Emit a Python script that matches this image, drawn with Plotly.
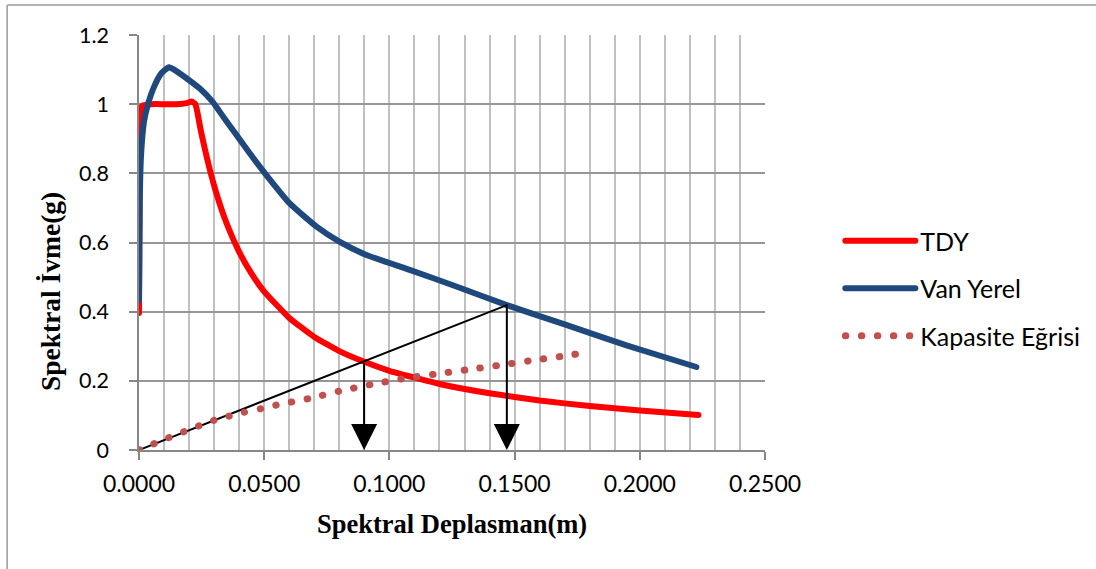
import plotly.graph_objects as go

# ---- data ----
tdy_x = [0.0, 0.0003, 0.0012, 0.005, 0.010, 0.015, 0.019, 0.021, 0.0225, 0.0235, 0.0245,
         0.026, 0.0283, 0.031, 0.035, 0.040, 0.045, 0.050, 0.060, 0.070, 0.080, 0.090,
         0.100, 0.120, 0.140, 0.160, 0.180, 0.200, 0.2234]
tdy_y = [0.396, 0.85, 0.995, 1.0, 1.0, 1.0, 1.003, 1.008, 1.0, 0.97, 0.93,
         0.88, 0.81, 0.74, 0.655, 0.573, 0.509, 0.458, 0.382, 0.327, 0.286, 0.255,
         0.229, 0.191, 0.164, 0.143, 0.127, 0.1145, 0.101]

van_x = [0.0, 0.0003, 0.0008, 0.002, 0.0036, 0.006, 0.009, 0.012, 0.014, 0.018, 0.0243,
         0.0295, 0.034, 0.038, 0.044, 0.0503, 0.0602, 0.0709, 0.0802, 0.0908, 0.1081,
         0.1270, 0.1469, 0.1700, 0.1950, 0.2226]
van_y = [0.434, 0.72, 0.85, 0.95, 1.0, 1.05, 1.09, 1.107, 1.10, 1.08, 1.045,
         1.006, 0.96, 0.92, 0.86, 0.80, 0.713, 0.646, 0.602, 0.564, 0.521,
         0.472, 0.419, 0.363, 0.302, 0.240]

kap_x = [0.0, 0.006, 0.012, 0.018, 0.024, 0.030, 0.036, 0.042, 0.049, 0.055, 0.061,
         0.068, 0.080, 0.093, 0.106, 0.119, 0.132, 0.145, 0.157, 0.170, 0.177]
kap_y = [0.0, 0.018, 0.036, 0.053, 0.070, 0.086, 0.098, 0.109, 0.120, 0.130, 0.139,
         0.149, 0.170, 0.190, 0.207, 0.220, 0.233, 0.246, 0.259, 0.272, 0.280]

# black secant line (origin -> performance point) and the two drop arrows
sec_x = [0.0, 0.1469]
sec_y = [0.0, 0.419]
arrow_x = [0.0899, 0.1469]
arrow_top = [0.256, 0.419]

x_ticks = [0.0, 0.05, 0.10, 0.15, 0.20, 0.25]
y_ticks = [0, 0.2, 0.4, 0.6, 0.8, 1.0, 1.2]

fig = go.Figure()
fig.add_trace(go.Scatter(x=tdy_x, y=tdy_y, mode="lines", name="TDY",
                         line=dict(color="#FF0000", width=6, shape="spline", smoothing=0.4),
                         legendgroup="a"))
fig.add_trace(go.Scatter(x=van_x, y=van_y, mode="lines", name="Van Yerel",
                         line=dict(color="#1F497D", width=6, shape="spline", smoothing=0.5),
                         legendgroup="b"))
fig.add_trace(go.Scatter(x=sec_x, y=sec_y, mode="lines", showlegend=False,
                         line=dict(color="#000000", width=2)))
fig.add_trace(go.Scatter(x=kap_x, y=kap_y, mode="lines", name="Kapasite Eğrisi",
                         line=dict(color="#C0504D", width=7, dash="0.5px,15.5px",
                                   shape="spline", smoothing=0.5),
                         legendgroup="c"))

for ax_, top_ in zip(arrow_x, arrow_top):
    fig.add_annotation(x=ax_, y=0, ax=ax_, ay=top_, xref="x", yref="y",
                       axref="x", ayref="y", text="", showarrow=True,
                       arrowhead=2, arrowsize=2.6, arrowwidth=2,
                       arrowcolor="#000000", standoff=0)

L, R, T, B = 139, 765.7, 35, 450
W, H = 1096, 569
pw, ph = R - L, B - T

def px2paper(xp, yp):
    return (xp - L) / pw, (B - yp) / ph

# axis titles
xt = px2paper(452, 524)
fig.add_annotation(x=xt[0], y=xt[1], xref="paper", yref="paper", showarrow=False,
                   text="<b>Spektral Deplasman(m)</b>", xanchor="center", yanchor="middle",
                   font=dict(family="Liberation Serif", size=26.5, color="#000000"))
yt = px2paper(50, 292)
fig.add_annotation(x=yt[0], y=yt[1], xref="paper", yref="paper", showarrow=False,
                   text="<b>Spektral İvme(g)</b>", textangle=-90,
                   xanchor="center", yanchor="middle",
                   font=dict(family="Liberation Serif", size=27.5, color="#000000"))

# outer frame (left and top edges visible)
x0, y0 = px2paper(7, 5)
x1, y1 = px2paper(W + 5, H + 5)
fig.add_shape(type="line", xref="paper", yref="paper", x0=x0, x1=x0, y0=y0, y1=y1,
              line=dict(color="#9A9A9A", width=1.5))
fig.add_shape(type="line", xref="paper", yref="paper", x0=x0, x1=x1, y0=y0, y1=y0,
              line=dict(color="#9A9A9A", width=1.5))

lg = px2paper(840, 288.5)
fig.update_layout(
    width=W, height=H,
    margin=dict(l=L, r=W - R, t=T, b=H - B, pad=0),
    plot_bgcolor="#FFFFFF", paper_bgcolor="#FFFFFF",
    showlegend=True,
    legend=dict(x=lg[0], y=lg[1], xanchor="left", yanchor="middle",
                font=dict(family="Lato", size=25, color="#000000"),
                itemwidth=70, tracegroupgap=12, bgcolor="rgba(0,0,0,0)"),
    xaxis=dict(range=[0, 0.25], tickvals=x_ticks, tickformat=".4f",
               showgrid=True, gridcolor="#C0C0C0", gridwidth=2,
               minor=dict(dtick=0.01, showgrid=True, gridcolor="#C0C0C0", gridwidth=2),
               showline=True, linecolor="#878787", linewidth=1.5,
               ticks="outside", ticklen=8, tickcolor="#878787", tickwidth=1.5,
               zeroline=False, ticklabelstandoff=5,
               tickfont=dict(family="Lato", size=23, color="#000000")),
    yaxis=dict(range=[0, 1.2], tickvals=y_ticks,
               showgrid=True, gridcolor="#969696", gridwidth=1.5,
               showline=True, linecolor="#878787", linewidth=1.5,
               ticks="outside", ticklen=8, tickcolor="#878787", tickwidth=1.5,
               zeroline=False, ticklabelstandoff=16,
               tickfont=dict(family="Lato", size=21.5, color="#000000")),
)

post = """
var s = document.createElement('style');
s.textContent = 'body{margin:0;overflow:hidden;} path.js-line{stroke-linecap:round;stroke-linejoin:round;}';
document.head.appendChild(s);
"""
fig.write_html("out.html", post_script=post, config={"displayModeBar": False})
